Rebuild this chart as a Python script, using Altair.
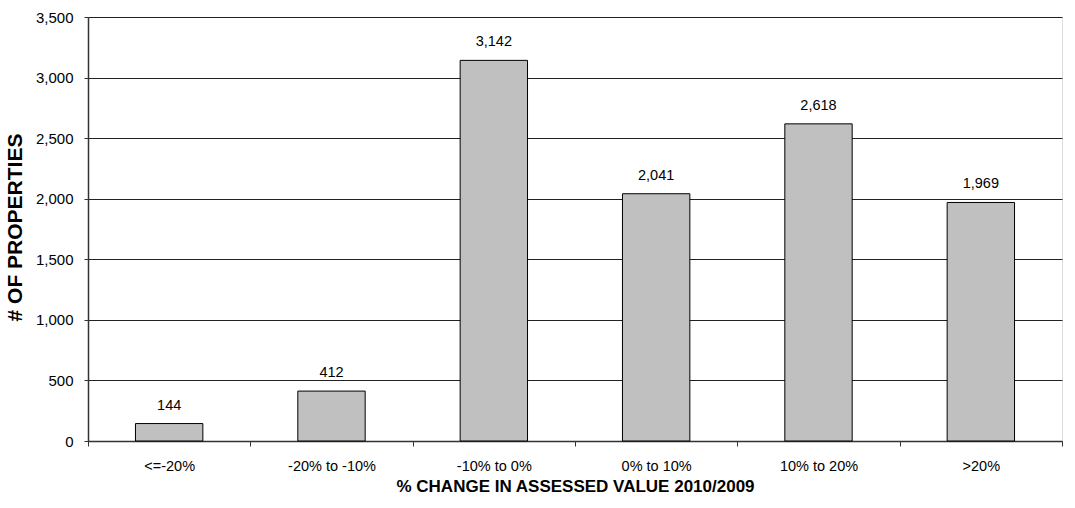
import altair as alt
import pandas as pd

categories = ["<=-20%", "-20% to -10%", "-10% to 0%", "0% to 10%", "10% to 20%", ">20%"]
counts = [144, 412, 3142, 2041, 2618, 1969]

df = pd.DataFrame({"cat": categories, "n": counts})

FONT = "Liberation Sans"

x = alt.X(
    "cat:N",
    sort=categories,
    scale=alt.Scale(paddingInner=0, paddingOuter=0),
    axis=alt.Axis(
        title="% CHANGE IN ASSESSED VALUE 2010/2009",
        labelAngle=0,
        labelFont=FONT,
        labelFontSize=14.5,
        labelColor="black",
        labelPadding=13,
        tickBand="extent",
        tickSize=5,
        tickColor="#333333",
        domainColor="#333333",
        domainWidth=1.5,
        titleFont=FONT,
        titleFontSize=17,
        titleFontWeight="bold",
        titleColor="black",
        titlePadding=6,
    ),
)

y = alt.Y(
    "n:Q",
    scale=alt.Scale(domain=[0, 3500], nice=False),
    axis=alt.Axis(
        title="# OF PROPERTIES",
        values=list(range(0, 3501, 500)),
        format=",.0f",
        labelFont=FONT,
        labelFontSize=15,
        labelColor="black",
        labelPadding=11,
        tickSize=4,
        tickColor="#333333",
        domainColor="#333333",
        domainWidth=1.5,
        grid=True,
        gridColor="#222222",
        gridWidth=1,
        titleFont=FONT,
        titleFontSize=21,
        titleFontWeight="bold",
        titleColor="black",
        titlePadding=10,
        titleY=210,
    ),
)

bars = alt.Chart(df).mark_bar(
    color="#C0C0C0", stroke="black", strokeWidth=1,
    width=alt.RelativeBandSize(0.415),
).encode(x=x, y=y)

labels = alt.Chart(df).mark_text(
    font=FONT, fontSize=14.5, color="black", baseline="alphabetic", dy=-14,
).encode(x=alt.X("cat:N", sort=categories), y="n:Q", text=alt.Text("n:Q", format=",.0f"))

chart = alt.layer(bars, labels).properties(
    width=974,
    height=424,
    autosize=alt.AutoSizeParams(type="none"),
    padding={"left": 88, "top": 17, "right": 13, "bottom": 67},
).configure_view(stroke=None).configure(background="white")

chart.save("out.html", embed_options={"renderer": "svg", "actions": False})
